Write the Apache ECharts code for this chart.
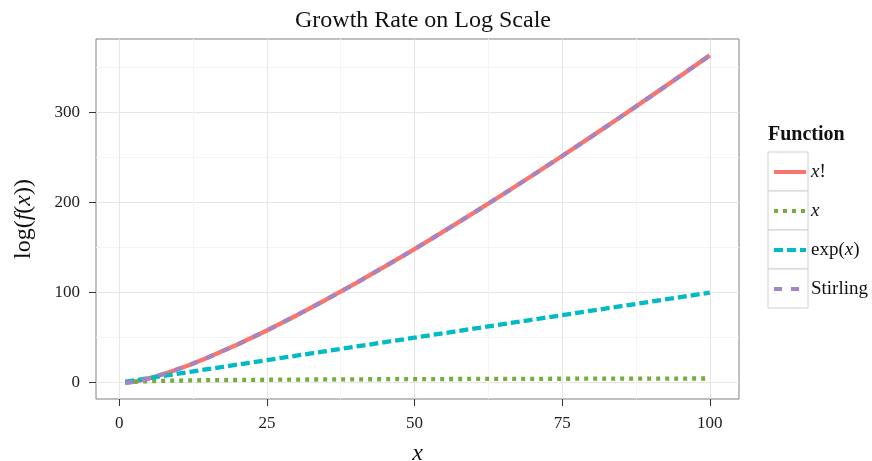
<!DOCTYPE html>
<html>
<head>
<meta charset="utf-8">
<script src="https://cdn.jsdelivr.net/npm/echarts@6/dist/echarts.min.js"></script>
<style>html,body{margin:0;padding:0;background:#fff}#c{width:872px;height:461px}</style>
</head>
<body>
<div id="c"></div>
<script>
// sample points (x)
var xs = [1, 2, 3, 4, 5, 6, 8, 10, 12, 15, 20, 25, 30, 35, 40, 45, 50, 55, 60, 65, 70, 75, 80, 85, 90, 95, 100];
// log(x!)
var logFactorial = [0, 0.693, 1.792, 3.178, 4.787, 6.579, 10.605, 15.104, 19.987, 27.899, 42.336, 58.004, 74.658, 92.137, 110.321, 129.124, 148.478, 168.327, 188.628, 209.342, 230.439, 251.891, 273.673, 295.766, 318.153, 340.815, 363.739];
// log(x)
var logX = [0, 0.693, 1.099, 1.386, 1.609, 1.792, 2.079, 2.303, 2.485, 2.708, 2.996, 3.219, 3.401, 3.555, 3.689, 3.807, 3.912, 4.007, 4.094, 4.174, 4.248, 4.317, 4.382, 4.443, 4.500, 4.554, 4.605];
// log(exp(x))
var logExp = [1, 2, 3, 4, 5, 6, 8, 10, 12, 15, 20, 25, 30, 35, 40, 45, 50, 55, 60, 65, 70, 75, 80, 85, 90, 95, 100];
// Stirling approximation
var logStirling = [-0.081, 0.652, 1.764, 3.157, 4.771, 6.565, 10.595, 15.096, 19.980, 27.894, 42.332, 58.001, 74.655, 92.135, 110.319, 129.122, 148.476, 168.326, 188.627, 209.341, 230.438, 251.890, 273.672, 295.765, 318.152, 340.814, 363.738];

var seriesNames = ['x!', 'x', 'exp(x)', 'Stirling'];
var xTicks = [0, 25, 50, 75, 100];
var yTicks = [0, 100, 200, 300];
var xRange = [-3.95, 104.95];
var yRange = [-18.19, 381.93];

function pairs(ys) { return xs.map(function (x, i) { return [x, ys[i]]; }); }

var colors = ['#F8766D', '#77AD3C', '#00BAC4', '#A584C3'];
var dashes = ['solid', [4, 5], [9, 4], [8, 9]];
var values = [logFactorial, logX, logExp, logStirling];

var serif = 'Liberation Serif';
var chart = echarts.init(document.getElementById('c'), null, {renderer: 'canvas'});

var series = seriesNames.map(function (n, i) {
  return {
    name: n, type: 'line', data: pairs(values[i]), symbol: 'none', smooth: false,
    lineStyle: {color: colors[i], width: 4.3, type: dashes[i], cap: 'butt'},
    itemStyle: {color: colors[i]}, z: 3 + i, animation: false
  };
});

var legendRows = seriesNames.map(function (n, i) {
  return {type: 'rect', shape: {x: 768, y: 152 + 39 * i, width: 40, height: 39},
    style: {fill: '#fff', stroke: '#d0d0d0', lineWidth: 1}, z: 1};
});

chart.setOption({
  animation: false,
  backgroundColor: '#fff',
  title: {text: 'Growth Rate on Log Scale', left: 418, textAlign: 'center', top: 4,
    textStyle: {fontFamily: serif, fontSize: 24, fontWeight: 'normal', color: '#111'}},
  grid: {left: 96, right: 133, top: 39, bottom: 62, show: true, borderColor: '#808080', borderWidth: 1,
    backgroundColor: '#fff', outerBoundsMode: 'none', containLabel: false},
  xAxis: {
    type: 'value', min: xRange[0], max: xRange[1], minInterval: 25, maxInterval: 25,
    name: 'x', nameLocation: 'middle', nameGap: 43,
    nameTextStyle: {fontFamily: serif, fontSize: 24, fontStyle: 'italic', color: '#111'},
    axisLine: {show: false, onZero: false},
    axisTick: {show: true, length: 7, lineStyle: {color: '#333', width: 1}, customValues: xTicks},
    axisLabel: {customValues: xTicks, margin: 16, fontFamily: serif, fontSize: 17, color: '#222'},
    splitLine: {show: true, lineStyle: {color: '#E6E6E6', width: 1}},
    minorTick: {show: false, splitNumber: 2},
    minorSplitLine: {show: true, lineStyle: {color: '#F4F4F4', width: 1}}
  },
  yAxis: {
    type: 'value', min: yRange[0], max: yRange[1], minInterval: 100, maxInterval: 100,
    name: 'log({i|f}({i|x}))', nameLocation: 'middle', nameGap: 60, nameRotate: 90,
    nameTextStyle: {fontFamily: serif, fontSize: 24, color: '#111',
      rich: {i: {fontFamily: serif, fontSize: 24, fontStyle: 'italic', color: '#111'}}},
    axisLine: {show: false, onZero: false},
    axisTick: {show: true, length: 7, lineStyle: {color: '#333', width: 1}, customValues: yTicks},
    axisLabel: {customValues: yTicks, margin: 16, fontFamily: serif, fontSize: 17, color: '#222'},
    splitLine: {show: true, lineStyle: {color: '#E6E6E6', width: 1}},
    minorTick: {show: false, splitNumber: 2},
    minorSplitLine: {show: true, lineStyle: {color: '#F4F4F4', width: 1}}
  },
  legend: {
    orient: 'vertical', left: 772, top: 162, padding: 0, itemWidth: 32, itemHeight: 14, itemGap: 19, itemTextGap: 10,
    selectedMode: false, z: 5,
    data: seriesNames,
    lineStyle: {width: 4},
    itemStyle: {opacity: 0},
    formatter: function (n) {
      if (n === 'x!') return '{i|x}!';
      if (n === 'x') return '{i|x}';
      if (n === 'exp(x)') return 'exp({i|x})';
      return n;
    },
    textStyle: {fontFamily: serif, fontSize: 19, color: '#111', lineHeight: 20,
      rich: {i: {fontFamily: serif, fontSize: 19, fontStyle: 'italic', color: '#111', lineHeight: 20}}}
  },
  graphic: legendRows.concat([
    {type: 'text', left: 768, top: 125, z: 2,
      style: {text: 'Function', fontFamily: serif, fontSize: 20, fontWeight: 'bold', fill: '#111'}}
  ]),
  series: series
});
</script>
</body>
</html>
